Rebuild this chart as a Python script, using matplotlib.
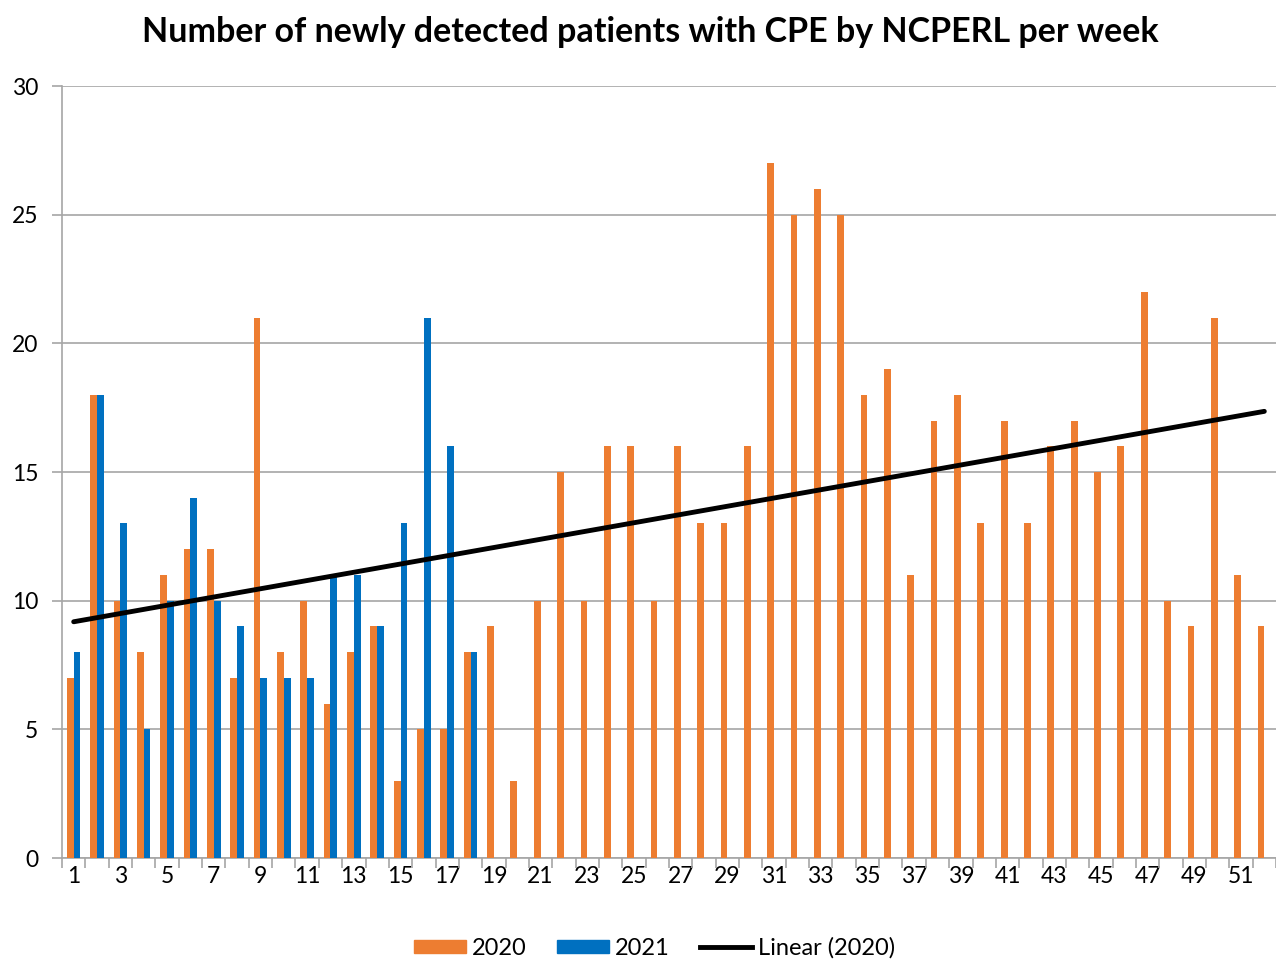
import numpy as np
import matplotlib.pyplot as plt
from matplotlib.patches import Patch
from matplotlib.lines import Line2D

plt.rcParams['font.family'] = ['Lato', 'DejaVu Sans']

weeks = np.arange(1, 53)
cases_2020 = [7, 18, 10, 8, 11, 12, 12, 7, 21, 8, 10, 6, 8, 9, 3, 5, 5, 8, 9, 3,
              10, 15, 10, 16, 16, 10, 16, 13, 13, 16, 27, 25, 26, 25, 18, 19, 11, 17, 18, 13,
              17, 13, 16, 17, 15, 16, 22, 10, 9, 21, 11, 9]
weeks_2021 = np.arange(1, 19)
cases_2021 = [8, 18, 13, 5, 10, 14, 10, 9, 7, 7, 7, 11, 11, 9, 13, 21, 16, 8]

orange = '#ed7d31'
blue = '#0070c0'
grey = '#a6a6a6'

fig = plt.figure(figsize=(12.76, 9.59), dpi=100)
ax = fig.add_axes([0.0486, 0.1053, 0.9514, 0.805])

w = 0.29
ax.bar(weeks - w / 2, cases_2020, width=w, color=orange, zorder=3)
ax.bar(weeks_2021 + w / 2, cases_2021, width=w, color=blue, zorder=3)

# linear trendline for 2020
k, b = np.polyfit(weeks, cases_2020, 1)
ax.plot(weeks, k * weeks + b, color='black', lw=3.5, solid_capstyle='round', zorder=4)

ax.set_xlim(0.5, 52.5)
ax.set_ylim(0, 30)
ax.set_yticks(range(0, 31, 5))
ax.yaxis.grid(True, color=grey, lw=1.2, zorder=0)
ax.set_xticks(weeks[::2])
ax.set_xticks(np.arange(0.5, 53, 1), minor=True)
ax.tick_params(axis='x', which='major', length=0, labelsize=16.5, pad=6)
ax.tick_params(axis='x', which='minor', length=7, color=grey, width=1.2)
ax.tick_params(axis='y', length=7, color=grey, width=1.2, labelsize=16.5, pad=10)

for s in ['top', 'right']:
    ax.spines[s].set_visible(False)
for s in ['left', 'bottom']:
    ax.spines[s].set_color(grey)
    ax.spines[s].set_linewidth(1.2)

fig.suptitle('Number of newly detected patients with CPE by NCPERL per week',
             fontsize=24.5, fontweight='bold', x=0.51, y=0.983)

handles = [Patch(color=orange), Patch(color=blue), Line2D([0], [0], color='black', lw=3.5)]
fig.legend(handles, ['2020', '2021', 'Linear (2020)'], loc='lower center',
           bbox_to_anchor=(0.513, -0.022), ncol=3, frameon=False, fontsize=17,
           handlelength=2.2, handleheight=0.5, columnspacing=1.3, handletextpad=0.25)

fig.savefig('out.png', dpi=100)
